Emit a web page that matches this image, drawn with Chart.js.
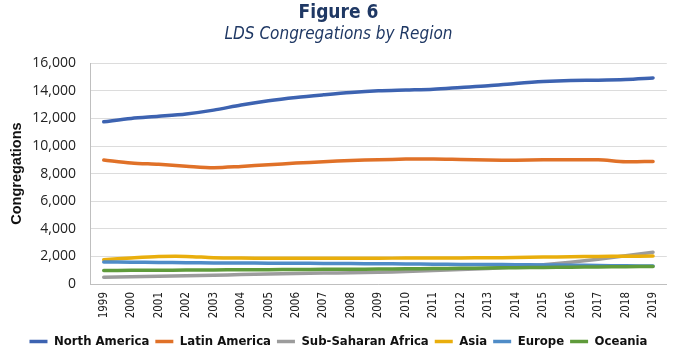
<!DOCTYPE html>
<html>
<head>
<meta charset="utf-8">
<script src="https://cdn.jsdelivr.net/npm/chart.js@4/dist/chart.umd.min.js"></script>
<style>
  html, body { margin: 0; padding: 0; background: #fff; }
  #wrap { width: 675px; height: 350px; position: relative; }
</style>
</head>
<body>
<div id="wrap"><canvas id="lds"></canvas></div>
<script>
const YEARS = ['1999', '2000', '2001', '2002', '2003', '2004', '2005', '2006', '2007', '2008', '2009',
               '2010', '2011', '2012', '2013', '2014', '2015', '2016', '2017', '2018', '2019'];

// congregations per region
const NORTH_AMERICA = [11750, 12000, 12150, 12320, 12600, 12970, 13280, 13520, 13710, 13880, 14000,
                       14060, 14120, 14240, 14360, 14530, 14670, 14750, 14770, 14820, 14930];
const LATIN_AMERICA = [8980, 8770, 8670, 8540, 8430, 8520, 8640, 8760, 8860, 8950, 9000,
                       9050, 9060, 9020, 8980, 8970, 9000, 9000, 9000, 8860, 8880];
const SUB_SAHARAN = [490, 520, 560, 600, 640, 680, 720, 760, 790, 820, 860,
                     900, 980, 1050, 1130, 1250, 1400, 1580, 1800, 2050, 2300];
const ASIA = [1760, 1890, 1990, 2000, 1910, 1880, 1870, 1870, 1870, 1870, 1870,
              1880, 1880, 1890, 1900, 1920, 1950, 1980, 2000, 2010, 2020];
const EUROPE = [1600, 1580, 1560, 1540, 1530, 1520, 1510, 1500, 1490, 1480, 1470,
                1450, 1440, 1420, 1410, 1400, 1380, 1360, 1340, 1320, 1300];
const OCEANIA = [980, 990, 1000, 1010, 1020, 1030, 1040, 1050, 1060, 1070, 1080,
                 1100, 1120, 1140, 1160, 1180, 1200, 1220, 1240, 1250, 1270];

const Y_TICKS = [0, 2000, 4000, 6000, 8000, 10000, 12000, 14000, 16000];

const NARROW = "'DejaVu Sans Condensed', 'DejaVu Sans', sans-serif";
const NAVY = '#1f3864';

function series(label, data, color, order) {
    return {
        label: label,
        data: data,
        borderColor: color,
        backgroundColor: color,
        borderWidth: 3.5,
        pointRadius: 0,
        pointHoverRadius: 0,
        tension: 0.3,
        borderCapStyle: 'round',
        fill: false,
        order: order
    };
}

const ctx = document.getElementById('lds').getContext('2d');
new Chart(ctx, {
    type: 'line',
    data: {
        labels: YEARS,
        datasets: [
            series('North America', NORTH_AMERICA, '#3d63b1', 6),
            series('Latin America', LATIN_AMERICA, '#e07128', 5),
            series('Sub-Saharan Africa', SUB_SAHARAN, '#9c9c9c', 4),
            series('Asia', ASIA, '#e9ae0c', 3),
            series('Europe', EUROPE, '#4f8cc7', 2),
            series('Oceania', OCEANIA, '#5f9b3b', 1)
        ]
    },
    options: {
        responsive: true,
        maintainAspectRatio: false,
        animation: false,
        layout: { padding: { left: 8, right: 6, top: 0, bottom: -8 } },
        plugins: {
            title: {
                display: true,
                text: 'Figure 6',
                color: NAVY,
                font: { family: NARROW, size: 19, weight: 'bold' },
                padding: { top: 2, bottom: 0 }
            },
            subtitle: {
                display: true,
                text: 'LDS Congregations by Region',
                color: NAVY,
                font: { family: NARROW, size: 17, style: 'italic' },
                padding: { top: 0, bottom: 18 }
            },
            legend: {
                position: 'bottom',
                labels: {
                    usePointStyle: true,
                    pointStyle: 'line',
                    pointStyleWidth: 18,
                    boxHeight: 4,
                    padding: 6,
                    color: '#111',
                    font: { family: NARROW, size: 13, weight: 'bold' },
                    sort: (a, b) => a.datasetIndex - b.datasetIndex
                }
            },
            tooltip: { enabled: false }
        },
        scales: {
            x: {
                offset: true,
                afterFit: (scale) => { scale.height = 45; },
                grid: { display: false, drawTicks: false },
                border: { color: '#bfbfbf' },
                ticks: {
                    minRotation: 90,
                    maxRotation: 90,
                    autoSkip: false,
                    padding: 8,
                    color: '#222',
                    font: { family: NARROW, size: 11.5 }
                }
            },
            y: {
                min: 0,
                max: 16000,
                afterBuildTicks: (scale) => { scale.ticks = Y_TICKS.map(v => ({ value: v })); },
                afterFit: (scale) => { scale.width = 82; },
                grid: { color: '#dcdcdc', drawTicks: false },
                border: { color: '#bfbfbf' },
                title: {
                    display: true,
                    text: 'Congregations',
                    color: '#111',
                    font: { family: "'Liberation Sans', Arial, sans-serif", size: 14.5, weight: 'bold' },
                    padding: { top: 0, bottom: 4 }
                },
                ticks: {
                    padding: 14,
                    color: '#222',
                    font: { family: "'Open Sans', sans-serif", size: 14 },
                    callback: (v) => v.toLocaleString('en-US')
                }
            }
        }
    }
});
</script>
</body>
</html>
